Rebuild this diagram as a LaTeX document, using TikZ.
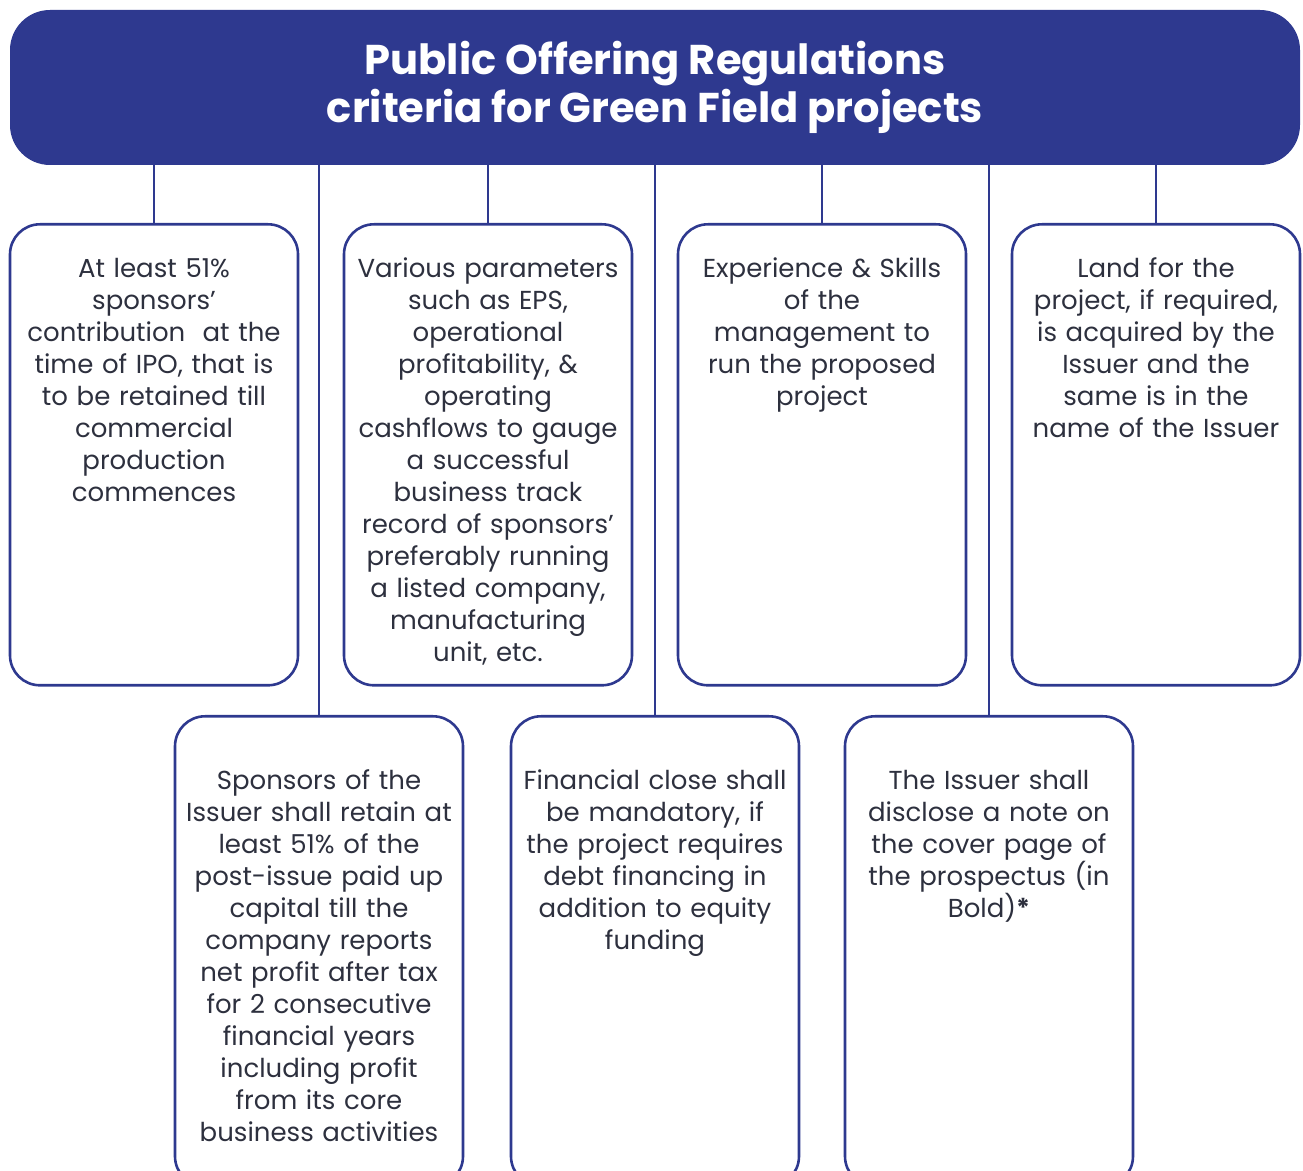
\documentclass[tikz,border=0pt]{standalone}
\usepackage{fontspec}
\setmainfont{Poppins}
\usetikzlibrary{positioning}
\hyphenpenalty=10000
\lineskiplimit=-20pt
\definecolor{ogblue}{RGB}{46,57,143}
\definecolor{ogtext}{RGB}{45,48,62}
\tikzset{
  head/.style={fill=ogblue, rounded corners=20pt, minimum width=645pt, minimum height=77.5pt,
    text=white, font=\bfseries\fontsize{20.8}{24}\selectfont, align=center},
  crit/.style={draw=ogblue, line width=1.3pt, rounded corners=15pt, anchor=north,
    text width=142pt, inner xsep=1pt, inner ysep=12pt, align=center, text=ogtext,
    font=\fontsize{13}{16}\selectfont},
  toprow/.style={crit, text height=14.5pt, text depth=192pt},
  lowrow/.style={crit, text height=24.5pt, text depth=186.5pt},
  link/.style={draw=ogblue, line width=1.3pt}
}
\begin{document}
\begin{tikzpicture}[x=0.5pt, y=-0.5pt]
\useasboundingbox (0,0) rectangle (1303,1171);
\node[head] (t) at (655, 87.5) {Public Offering Regulations\\criteria for Green Field projects};
% first row
\node[toprow] (b1) at (154, 223) {At least 51\%\\sponsors’\\contribution\ \ at the\\time of IPO, that is\\to be retained till\\commercial\\production\\commences};
\node[toprow] (b2) at (488, 223) {Various parameters\\such as EPS,\\operational\\profitability, \&\\operating\\cashflows to gauge\\a successful\\business track\\record of sponsors’\\preferably running\\a listed company,\\manufacturing\\unit, etc.};
\node[toprow] (b3) at (822, 223) {Experience \& Skills\\of the\\management to\\run the proposed\\project};
\node[toprow] (b4) at (1156, 223) {Land for the\\project, if required,\\is acquired by the\\Issuer and the\\same is in the\\name of the Issuer};
% second row
\node[lowrow] (b5) at (319, 715) {Sponsors of the\\Issuer shall retain at\\least 51\% of the\\post-issue paid up\\capital till the\\company reports\\net profit after tax\\for 2 consecutive\\financial years\\including profit\\from its core\\business activities};
\node[lowrow] (b6) at (655, 715) {Financial close shall\\be mandatory, if\\the project requires\\debt financing in\\addition to equity\\funding};
\node[lowrow] (b7) at (989, 715) {The Issuer shall\\disclose a note on\\the cover page of\\the prospectus (in\\Bold)\textbf{*}};
\foreach \b in {b1,b2,b3,b4,b5,b6,b7}
  \draw[link] (\b.north |- t.south) -- (\b.north);
\end{tikzpicture}
\end{document}
